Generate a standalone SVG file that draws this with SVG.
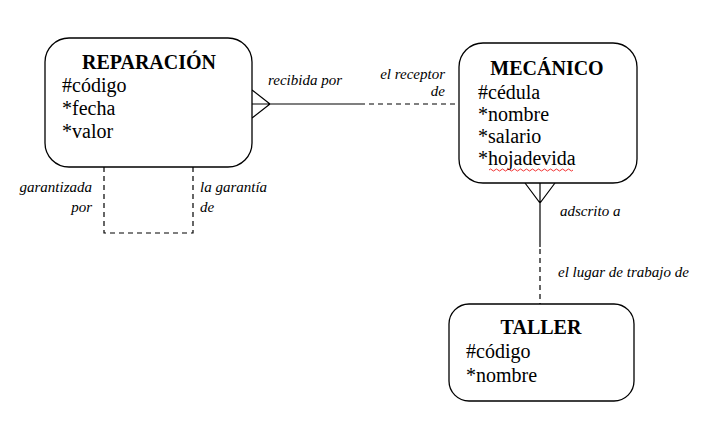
<svg xmlns="http://www.w3.org/2000/svg" width="726" height="423" viewBox="0 0 726 423">
<style>
.box{fill:#fff;stroke:#000;stroke-width:1.3}
.t{font-family:"Liberation Serif","Times New Roman",serif;font-weight:bold;font-size:20px;text-anchor:middle}
.a{font-family:"Liberation Serif","Times New Roman",serif;font-size:20px}
.l{font-family:"Liberation Serif","Times New Roman",serif;font-style:italic;font-size:15px}
.s{stroke:#000;stroke-width:1.2;fill:none}
.d{stroke:#000;stroke-width:1.2;fill:none;stroke-dasharray:5 4}
</style>
<rect width="726" height="423" fill="#fff"/>
<g id="connectors">
<path class="s" d="M252 104H360M252 90L270 104L252 118"/>
<path class="d" d="M360 104H459"/>
<path class="s" d="M540 183V247M525 183L540 203L555 183"/>
<path class="d" d="M540 249V304"/>
<path class="d" d="M104 167V233H193V167"/>
<text class="l" x="268" y="85">recibida por</text>
<text class="l" x="445" y="79" text-anchor="end">el receptor</text>
<text class="l" x="445" y="96" text-anchor="end">de</text>
<text class="l" x="92" y="192" text-anchor="end">garantizada</text>
<text class="l" x="92" y="212" text-anchor="end">por</text>
<text class="l" x="200" y="192">la garantía</text>
<text class="l" x="200" y="212">de</text>
<text class="l" x="560" y="216">adscrito a</text>
<text class="l" x="558" y="277">el lugar de trabajo de</text>
</g>
<g id="reparacion">
<rect class="box" x="45" y="38" width="207" height="129" rx="24"/>
<text class="t" x="149" y="69">REPARACIÓN</text>
<text class="a" x="62" y="92">#código</text>
<text class="a" x="62" y="115">*fecha</text>
<text class="a" x="62" y="138">*valor</text>
</g>
<g id="mecanico">
<rect class="box" x="459" y="43" width="178" height="140" rx="24"/>
<text class="t" x="547" y="75">MECÁNICO</text>
<text class="a" x="478" y="99">#cédula</text>
<text class="a" x="478" y="121">*nombre</text>
<text class="a" x="478" y="143">*salario</text>
<text class="a" x="478" y="165">*hojadevida</text>
<path d="M489 170q1.5 -2 3 0t3 0t3 0t3 0t3 0t3 0t3 0t3 0t3 0t3 0t3 0t3 0t3 0t3 0t3 0t3 0t3 0t3 0t3 0t3 0t3 0t3 0t3 0t3 0t3 0t3 0t3 0t3 0" fill="none" stroke="#e00" stroke-width="0.8"/>
</g>
<g id="taller">
<rect class="box" x="449" y="304" width="185" height="97" rx="20"/>
<text class="t" x="541" y="334">TALLER</text>
<text class="a" x="466" y="358">#código</text>
<text class="a" x="466" y="382">*nombre</text>
</g>
</svg>
